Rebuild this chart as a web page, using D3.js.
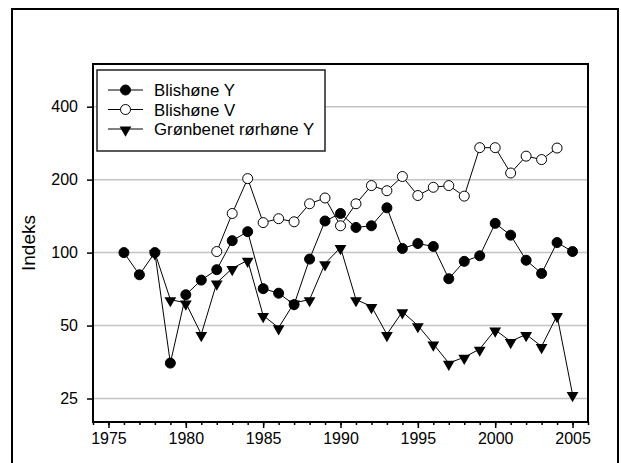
<!DOCTYPE html>
<html lang="no">
<head>
<meta charset="UTF-8">
<title>Indeks</title>
<script src="https://cdn.jsdelivr.net/npm/d3@7"></script>
<style>
body { margin: 0; background: #fff; }
svg text { font-family: Arial, "Liberation Sans", sans-serif; fill: #000; }
</style>
</head>
<body>
<script>

var years = d3.range(1976, 2006);

var blishoneY = [100, 81, 100, 35, 67, 77, 85, 112, 122, 71, 68, 61, 94, 135, 145,
                 127, 129, 153, 104, 109, 106, 78, 92, 97, 132, 118, 93, 82, 110, 101];

var blishoneVYears = d3.range(1982, 2005);
var blishoneV = [101, 145, 202, 133, 138, 134, 159, 168, 129, 159, 189, 180, 206, 172,
                 186, 189, 171, 271, 271, 213, 250, 242, 270];

var gronYears = d3.range(1978, 2006);
var gronbenetY = [100, 64, 62, 46, 75, 86, 93, 55, 49, 62, 64, 90, 105, 64, 60, 46,
                  57, 50, 42, 35, 37, 40, 48, 43, 46, 41, 55, 26];

var yTicks = [25, 50, 100, 200, 400];
var xTicks = [1975, 1980, 1985, 1990, 1995, 2000, 2005];
var seriesNames = ["Blishøne Y", "Blishøne V", "Grønbenet rørhøne Y"];

var W = 621, H = 463;
var pLeft = 93, pRight = 588, pTop = 64, pBottom = 422;

var svg = d3.select("body").append("svg")
    .attr("width", W)
    .attr("height", H);

// outer frame (bottom edge runs off the picture)
svg.append("path")
    .attr("d", "M12,470 L12,9 L618,9 L618,470")
    .attr("fill", "none")
    .attr("stroke", "black")
    .attr("stroke-width", 2);

var x = d3.scaleLinear().domain([1974, 2006]).range([pLeft, pRight]);
var y = d3.scaleLog().domain([20, 600]).range([pBottom, pTop]);

// grid
svg.append("g").selectAll("line")
    .data(yTicks).enter().append("line")
    .attr("x1", pLeft).attr("x2", pRight)
    .attr("y1", function(d){ return y(d); })
    .attr("y2", function(d){ return y(d); })
    .attr("stroke", "#c4c4c4")
    .attr("stroke-width", 1.5);

// axes
var xAxis = d3.axisBottom(x).tickValues(xTicks).tickFormat(d3.format("d"))
    .tickSizeInner(6).tickSizeOuter(0).tickPadding(5);
var xMinor = d3.axisBottom(x).tickValues(d3.range(1974, 2007))
    .tickFormat("").tickSizeInner(3).tickSizeOuter(0);
var yAxis = d3.axisLeft(y).tickValues(yTicks).tickFormat(d3.format("d"))
    .tickSizeInner(6).tickSizeOuter(0).tickPadding(9);

var gxm = svg.append("g").attr("transform", "translate(0," + pBottom + ")").call(xMinor);
var gx = svg.append("g").attr("transform", "translate(0," + pBottom + ")").call(xAxis);
var gy = svg.append("g").attr("transform", "translate(" + pLeft + ",0)").call(yAxis);

[gxm, gx, gy].forEach(function(g){
    g.select(".domain").remove();
    g.selectAll("line").attr("stroke", "black").attr("stroke-width", 1.5);
    g.attr("font-size", null).attr("font-family", null);
    g.selectAll("text").style("font-size", "16px");
});

// plot box
svg.append("rect")
    .attr("x", pLeft).attr("y", pTop)
    .attr("width", pRight - pLeft).attr("height", pBottom - pTop)
    .attr("fill", "none")
    .attr("stroke", "black")
    .attr("stroke-width", 2);

svg.append("text")
    .attr("transform", "translate(35," + ((pTop + pBottom) / 2) + ") rotate(-90)")
    .attr("text-anchor", "middle")
    .style("font-size", "19px")
    .text("Indeks");

var line = d3.line()
    .x(function(d){ return x(d[0]); })
    .y(function(d){ return y(d[1]); });

var tri = d3.symbol().type(d3.symbolTriangle).size(60);

function drawSeries(xs, vals, kind) {
    var pts = d3.zip(xs, vals);
    var g = svg.append("g");
    g.append("path")
        .attr("d", line(pts))
        .attr("fill", "none")
        .attr("stroke", "black")
        .attr("stroke-width", 1);
    if (kind == "tri") {
        g.selectAll("path.m").data(pts).enter().append("path")
            .attr("class", "m")
            .attr("d", tri)
            .attr("transform", function(d){
                return "translate(" + x(d[0]) + "," + (y(d[1]) + 1) + ") rotate(180)";
            })
            .attr("fill", "black");
    } else {
        g.selectAll("circle").data(pts).enter().append("circle")
            .attr("cx", function(d){ return x(d[0]); })
            .attr("cy", function(d){ return y(d[1]); })
            .attr("r", 5)
            .attr("fill", kind == "open" ? "white" : "black")
            .attr("stroke", "black")
            .attr("stroke-width", 1);
    }
}

drawSeries(years, blishoneY, "filled");
drawSeries(blishoneVYears, blishoneV, "open");
drawSeries(gronYears, gronbenetY, "tri");

// legend
var lg = svg.append("g");
lg.append("rect")
    .attr("x", 97).attr("y", 70)
    .attr("width", 228).attr("height", 81)
    .attr("fill", "white")
    .attr("stroke", "#222")
    .attr("stroke-width", 1.5);

var kinds = ["filled", "open", "tri"];
seriesNames.forEach(function(name, i){
    var ly = 90 + i * 19.5;
    lg.append("line")
        .attr("x1", 108).attr("x2", 143)
        .attr("y1", ly).attr("y2", ly)
        .attr("stroke", "black").attr("stroke-width", 1);
    if (kinds[i] == "tri") {
        lg.append("path").attr("d", tri)
            .attr("transform", "translate(125.5," + (ly + 1) + ") rotate(180)")
            .attr("fill", "black");
    } else {
        lg.append("circle")
            .attr("cx", 125.5).attr("cy", ly).attr("r", 5)
            .attr("fill", kinds[i] == "open" ? "white" : "black")
            .attr("stroke", "black");
    }
    lg.append("text")
        .attr("x", 154).attr("y", ly + 6)
        .style("font-size", "16.8px")
        .text(name);
});

</script>
</body>
</html>
